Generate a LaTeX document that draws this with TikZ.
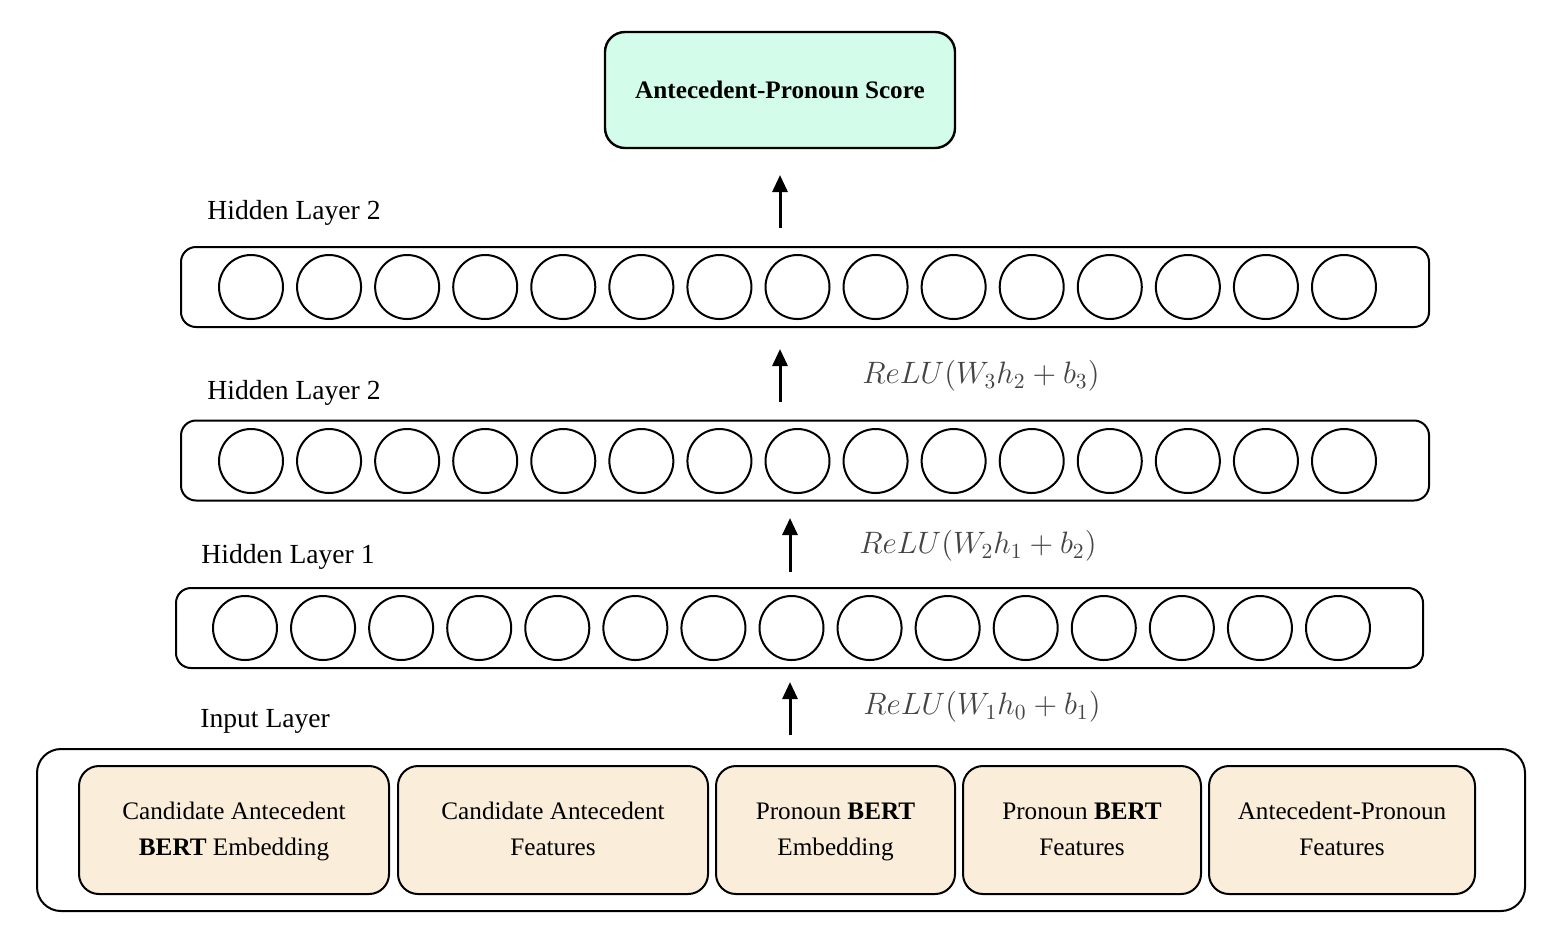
\documentclass[tikz,border=0pt]{standalone}
\usepackage{fontspec}
\setmainfont{Liberation Serif}
\usetikzlibrary{arrows.meta}
\definecolor{mint}{HTML}{D3FCEA}
\definecolor{beige}{HTML}{FAEEDA}
\definecolor{mathgrey}{HTML}{444444}
\newcommand{\relutext}[1]{\scalebox{1.075}{$#1$}}
\tikzset{
  layerbox/.style={draw, line width=1pt, rounded corners=7.5pt, minimum width=624pt, minimum height=40pt, inner sep=0pt},
  neuron/.style={draw, circle, line width=1pt, minimum size=32pt, inner sep=0pt},
  inbox/.style={draw, line width=1pt, rounded corners=10pt, fill=beige, minimum height=64pt, inner sep=0pt, align=center, font=\fontsize{12.6}{18}\selectfont},
  layerlabel/.style={anchor=base west, inner sep=0pt, font=\fontsize{13.8}{16}\selectfont},
  relulabel/.style={inner sep=0pt, text=mathgrey, font=\fontsize{14.4}{17}\selectfont},
  uparrow/.style={line width=1.5pt, -{Triangle[width=7.5pt,length=8.5pt]}}
}
\begin{document}
\begin{tikzpicture}[x=0.5pt,y=-0.5pt]
\useasboundingbox (0,0) rectangle (1566,944);
% top score box
\node[draw, line width=1.2pt, rounded corners=10pt, fill=mint, minimum width=175pt, minimum height=58pt, inner sep=0pt, font=\fontsize{12.6}{15}\selectfont\bfseries] (score) at (780,90) {Antecedent-Pronoun Score};
% layers
\node[layerbox] (L3) at (805,287) {};
\node[layerbox] (L2) at (805,460.5) {};
\node[layerbox, minimum width=623.5pt] (L1) at (799.5,628) {};
\foreach \i in {0,...,14} {
  \node[neuron] (n3-\i) at ({251+78.07*\i},287) {};
  \node[neuron] (n2-\i) at ({251+78.07*\i},461) {};
  \node[neuron] (n1-\i) at ({245+78.07*\i},628) {};
}
% labels
\node[layerlabel] (lab3) at (207,219) {Hidden Layer 2};
\node[layerlabel] (lab2) at (207,399) {Hidden Layer 2};
\node[layerlabel] (lab1) at (201,563) {Hidden Layer 1};
\node[layerlabel] (lab0) at (200,727) {Input Layer};
\node[relulabel] (r3) at (981,376) {\relutext{ReLU(W_3h_2+b_3)}};
\node[relulabel] (r2) at (978,546) {\relutext{ReLU(W_2h_1+b_2)}};
\node[relulabel] (r1) at (982,707) {\relutext{ReLU(W_1h_0+b_1)}};
% input layer
\node[draw, line width=1pt, rounded corners=12pt, minimum width=744pt, minimum height=81pt, inner sep=0pt] (input) at (781,830) {};
\node[inbox, minimum width=155pt] (b1) at (234,830) {\strut Candidate Antecedent\\\strut\textbf{BERT} Embedding};
\node[inbox, minimum width=155pt] (b2) at (553,830) {\strut Candidate Antecedent\\\strut Features};
\node[inbox, minimum width=119.5pt] (b3) at (835.5,830) {\strut Pronoun \textbf{BERT}\\\strut Embedding};
\node[inbox, minimum width=119pt] (b4) at (1082,830) {\strut Pronoun \textbf{BERT}\\\strut Features};
\node[inbox, minimum width=133pt] (b5) at (1342,830) {\strut Antecedent-Pronoun\\\strut Features};
% arrows
\coordinate (a3s) at (780,228); \coordinate (a3e) at (780,175);
\coordinate (a2s) at (780,402); \coordinate (a2e) at (780,349);
\coordinate (a1s) at (790,572); \coordinate (a1e) at (790,518);
\coordinate (a0s) at (790,735); \coordinate (a0e) at (790,682);
\draw[uparrow] (a3s) -- (a3e);
\draw[uparrow] (a2s) -- (a2e);
\draw[uparrow] (a1s) -- (a1e);
\draw[uparrow] (a0s) -- (a0e);
\end{tikzpicture}
\end{document}
